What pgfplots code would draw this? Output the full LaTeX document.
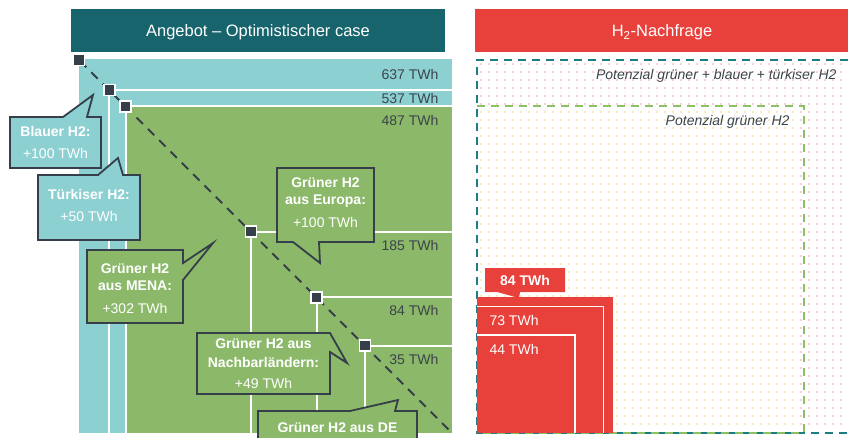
\documentclass[border=0pt]{standalone}
\usepackage{fontspec}
\setmainfont{Liberation Sans}
\usepackage{pgfplots}
\pgfplotsset{compat=1.18}

\definecolor{hdteal}{HTML}{17646C}
\definecolor{lteal}{HTML}{8DD0D2}
\definecolor{lgreen}{HTML}{8BB969}
\definecolor{cdark}{HTML}{363F49}
\definecolor{hred}{HTML}{E8403A}
\definecolor{txtgray}{HTML}{3B434B}
\definecolor{pinkdot}{HTML}{F4A3A3}
\definecolor{yellowdot}{HTML}{F5D06E}
\definecolor{dashteal}{HTML}{1D7C86}
\definecolor{dashgreen}{HTML}{8CC064}

\newcommand\fn{\fontsize{14}{16}\selectfont}
\newcommand\fb{\fontsize{14}{16}\selectfont\bfseries}
\newcommand\fh{\fontsize{16.5}{18}\selectfont}

\begin{document}
\begin{tikzpicture}
% dotted background of the demand panel (texture only, under the axis)
\foreach \x in {481,489,...,847} {
  \foreach \y in {64,72,...,430} {
    \pgfmathsetmacro\yy{438-\y}
    \pgfmathparse{(\x<801 && \y>109) ? 1 : 0}
    \ifnum\pgfmathresult=1
      \fill[yellowdot] (\x pt,\yy pt) circle (0.9pt);
    \else
      \fill[pinkdot] (\x pt,\yy pt) circle (0.9pt);
    \fi
  }
}
\begin{axis}[
    width=848pt, height=438pt, scale only axis,
    xmin=0, xmax=848, ymin=0, ymax=438, y dir=reverse,
    hide axis, clip=false,
]
\coordinate (tl) at (0,0);
\coordinate (br) at (848,438);

% headers
\fill[hdteal] (71,9) rectangle (445,52);
\node[anchor=base, text=white, font=\fh] at (258,36.5) {Angebot – Optimistischer case};
\fill[hred] (475,9) rectangle (848,52);
\node[anchor=base, text=white, font=\fh] at (662,36.5) {H\textsubscript{2}-Nachfrage};

% supply squares (side ~ sqrt of TWh, anchored bottom right)
\addplot[fill=lteal, draw=none] coordinates {(78.5,59.5) (452,59.5) (452,433) (78.5,433)} -- cycle;   % 637
\addplot[fill=lteal, draw=none] coordinates {(109.4,90.1) (452,90.1) (452,433) (109.4,433)} -- cycle; % 537
\addplot[fill=lgreen, draw=none] coordinates {(125.7,106.4) (452,106.4) (452,433) (125.7,433)} -- cycle; % 487
\addplot[white, line width=2pt] coordinates {(109.4,433) (109.4,90.1) (452,90.1)};
\addplot[white, line width=2pt] coordinates {(125.7,433) (125.7,106.4) (452,106.4)};
\addplot[white, line width=2pt] coordinates {(251,433) (251,231.7) (452,231.7)};   % 185
\addplot[white, line width=2pt] coordinates {(316.7,433) (316.7,297.4) (452,297.4)}; % 84
\addplot[white, line width=2pt] coordinates {(364.8,433) (364.8,345.5) (452,345.5)}; % 35

\addplot[cdark, line width=2pt, dash pattern=on 9pt off 7pt] coordinates {(80,61) (449,430)};
\addplot[only marks, mark=square*, mark size=5.5pt,
  mark options={fill=cdark, draw=white, line width=1.5pt}]
  coordinates {(79,60) (109.4,90.1) (125.7,106.4) (251,231.7) (316.7,297.4) (364.8,345.5)};

\node[anchor=base east, text=txtgray, font=\fn] at (442,80) {637 TWh};
\node[anchor=base east, text=txtgray, font=\fn] at (442,104) {537 TWh};
\node[anchor=base east, text=txtgray, font=\fn] at (442,126) {487 TWh};
\node[anchor=base east, text=txtgray, font=\fn] at (442,251) {185 TWh};
\node[anchor=base east, text=txtgray, font=\fn] at (442,315) {84 TWh};
\node[anchor=base east, text=txtgray, font=\fn] at (442,364) {35 TWh};

% callouts
\draw[fill=lteal, draw=cdark, line width=1.8pt, line join=miter]
  (10,117) -- (63,117) -- (93,95) -- (87,117) -- (101,117) -- (101,168) -- (10,168) -- cycle;
\node[anchor=base, text=white, font=\fb] at (55.5,137) {Blauer H2:};
\node[anchor=base, text=white, font=\fn] at (55.5,159) {+100 TWh};

\draw[fill=lteal, draw=cdark, line width=1.8pt, line join=miter]
  (38,175) -- (98,175) -- (118,158) -- (123,175) -- (140,175) -- (140,240) -- (38,240) -- cycle;
\node[anchor=base, text=white, font=\fb] at (89,200) {Türkiser H2:};
\node[anchor=base, text=white, font=\fn] at (89,222) {+50 TWh};

\draw[fill=lgreen, draw=cdark, line width=1.8pt, line join=miter]
  (277,168) -- (374,168) -- (374,242) -- (319,242) -- (320,263) -- (293,242) -- (277,242) -- cycle;
\node[anchor=base, text=white, font=\fb] at (325.5,188) {Grüner H2};
\node[anchor=base, text=white, font=\fb] at (325.5,205) {aus Europa:};
\node[anchor=base, text=white, font=\fn] at (325.5,228) {+100 TWh};

\draw[fill=lgreen, draw=cdark, line width=1.8pt, line join=miter]
  (87,250) -- (183,250) -- (183,263) -- (213,243) -- (183,280) -- (183,323) -- (87,323) -- cycle;
\node[anchor=base, text=white, font=\fb] at (135,273) {Grüner H2};
\node[anchor=base, text=white, font=\fb] at (135,290) {aus MENA:};
\node[anchor=base, text=white, font=\fn] at (135,313) {+302 TWh};

\draw[fill=lgreen, draw=cdark, line width=1.8pt, line join=miter]
  (197,333) -- (330,333) -- (347,363) -- (330,352) -- (330,394) -- (197,394) -- cycle;
\node[anchor=base, text=white, font=\fb] at (263.5,348) {Grüner H2 aus};
\node[anchor=base, text=white, font=\fb] at (263.5,367) {Nachbarländern:};
\node[anchor=base, text=white, font=\fn] at (263.5,388) {+49 TWh};

\fill[lgreen] (258,438) -- (258,411) -- (350,411) -- (398,400) -- (395,411) -- (417,411) -- (417,438) -- cycle;
\draw[cdark, line width=1.8pt, line join=miter]
  (258,438) -- (258,411) -- (350,411) -- (398,400) -- (395,411) -- (417,411) -- (417,438);
\node[anchor=base, text=white, font=\fb] at (337.5,432) {Grüner H2 aus DE};

% demand side: potentials (dashed) and demand squares
\addplot[dashteal, line width=2pt, dash pattern=on 8pt off 6pt]
  coordinates {(848,60) (477,60) (477,433) (848,433)};                 % 637
\addplot[dashgreen, line width=2pt, dash pattern=on 8pt off 6pt]
  coordinates {(477,106.4) (803.6,106.4) (803.6,433) (477,433)};      % 487
\node[anchor=base east, text=txtgray, font=\fn\itshape] at (840,80) {Potenzial grüner + blauer + türkiser H2};
\node[anchor=base east, text=txtgray, font=\fn\itshape] at (793,126) {Potenzial grüner H2};

\addplot[fill=hred, draw=none] coordinates {(477,297.4) (612.6,297.4) (612.6,433) (477,433)} -- cycle; % 84
\addplot[white, line width=1.5pt] coordinates {(477,306.6) (603.4,306.6) (603.4,433)};  % 73
\addplot[white, line width=1.5pt] coordinates {(477,334.8) (575.2,334.8) (575.2,433)};  % 44
\node[anchor=base west, text=white, font=\fn] at (486,325) {73 TWh};
\node[anchor=base west, text=white, font=\fn] at (486,354) {44 TWh};

\fill[hred] (485,268) -- (565,268) -- (565,292) -- (520,292) -- (519,298) -- (497,292) -- (485,292) -- cycle;
\node[anchor=base, text=white, font=\fb] at (525,285) {84 TWh};
\end{axis}
\pgfresetboundingbox
\path[use as bounding box] (tl) rectangle (br);
\end{tikzpicture}
\end{document}
